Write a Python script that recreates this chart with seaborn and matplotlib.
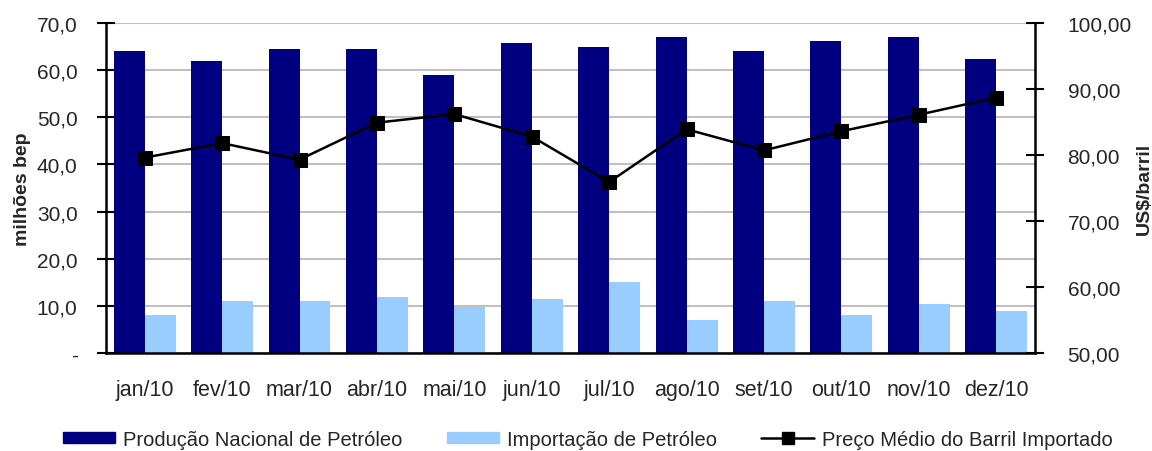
import matplotlib
matplotlib.use("Agg")
import matplotlib.pyplot as plt
from matplotlib.ticker import FuncFormatter, FixedLocator
import seaborn as sns
import pandas as pd

# Monthly series, 2010
months = ["jan/10", "fev/10", "mar/10", "abr/10", "mai/10", "jun/10",
          "jul/10", "ago/10", "set/10", "out/10", "nov/10", "dez/10"]
producao = [64.1, 61.9, 64.5, 64.5, 59.0, 65.8, 64.9, 67.0, 64.1, 66.2, 67.0, 62.4]
importacao = [8.1, 11.0, 11.0, 11.9, 9.8, 11.5, 15.0, 6.9, 11.0, 8.1, 10.3, 8.9]
preco = [79.6, 81.8, 79.3, 84.9, 86.2, 82.8, 75.9, 83.9, 80.7, 83.6, 86.1, 88.7]

lbl_prod = "Produção Nacional de Petróleo"
lbl_imp = "Importação de Petróleo"
lbl_preco = "Preço Médio do Barril Importado"

sns.set_theme(style="white")
plt.rcParams["font.family"] = ["Liberation Sans", "DejaVu Sans"]

bars = pd.DataFrame({
    "mes": months * 2,
    "valor": producao + importacao,
    "serie": [lbl_prod] * len(months) + [lbl_imp] * len(months),
})

fig = plt.figure(figsize=(11.52, 4.52), dpi=100)
ax = fig.add_axes([0.092, 0.2168, 0.8064, 0.7301])

sns.barplot(data=bars, x="mes", y="valor", hue="serie",
            palette=["#000080", "#99CCFF"], width=0.8, saturation=1,
            linewidth=0, ax=ax, legend=False)

ax.set_ylim(0, 70)
ax.set_xlim(-0.5, len(months) - 0.5)
ax.yaxis.set_major_locator(FixedLocator(range(0, 71, 10)))
ax.yaxis.set_major_formatter(FuncFormatter(
    lambda v, p: "-" if v == 0 else f"{v:.1f}".replace(".", ",")))
ax.grid(axis="y", color="#c0c0c0", linewidth=1.5)
ax.set_axisbelow(True)

# month labels centred, tick marks between categories
ax.set_xticks([i - 0.5 for i in range(len(months) + 1)])
ax.set_xticklabels([])
ax.set_xticks(range(len(months)), minor=True)
ax.set_xticklabels(months, minor=True, fontsize=15.5)
ax.tick_params(axis="x", which="minor", length=0, pad=19)
ax.tick_params(axis="x", which="major", direction="inout", length=10,
               width=1.5, color="black")
ax.tick_params(axis="y", direction="inout", length=13, width=1.5,
               color="black", labelsize=15, pad=14)
ax.set_xlabel("")
ax.set_ylabel("milhões bep", fontsize=14, fontweight="bold", labelpad=4)

for s in ["top", "right"]:
    ax.spines[s].set_visible(False)
for s in ["left", "bottom"]:
    ax.spines[s].set_color("black")
    ax.spines[s].set_linewidth(1.8)

ax2 = ax.twinx()
price = pd.DataFrame({"x": range(len(months)), "preco": preco})
sns.lineplot(data=price, x="x", y="preco", color="black", linewidth=1.8,
             marker="s", markersize=10, markeredgecolor="black", ax=ax2)
ax2.set_ylim(50, 100)
ax2.yaxis.set_major_locator(FixedLocator(range(50, 101, 10)))
ax2.yaxis.set_major_formatter(FuncFormatter(
    lambda v, p: f"{v:.2f}".replace(".", ",")))
ax2.tick_params(axis="y", direction="inout", length=13, width=1.5,
                color="black", labelsize=15, pad=17)
ax2.set_ylabel("US$/barril", fontsize=14, fontweight="bold", labelpad=3)
ax2.set_xlabel("")
ax2.grid(False)
for s in ["top", "left", "bottom"]:
    ax2.spines[s].set_visible(False)
ax2.spines["right"].set_color("black")
ax2.spines["right"].set_linewidth(1.8)

handles = [
    plt.Rectangle((0, 0), 1, 1, color="#000080"),
    plt.Rectangle((0, 0), 1, 1, color="#99CCFF"),
    plt.Line2D([], [], color="black", linewidth=1.8, marker="s", markersize=9),
]
fig.legend(handles, [lbl_prod, lbl_imp, lbl_preco], loc="center",
           bbox_to_anchor=(0.51, 0.026), ncol=3, frameon=False, fontsize=14.5,
           handlelength=2.6, handleheight=0.5, handletextpad=0.4,
           columnspacing=2.2, borderpad=0, borderaxespad=0)

fig.savefig("out.png", dpi=100)
